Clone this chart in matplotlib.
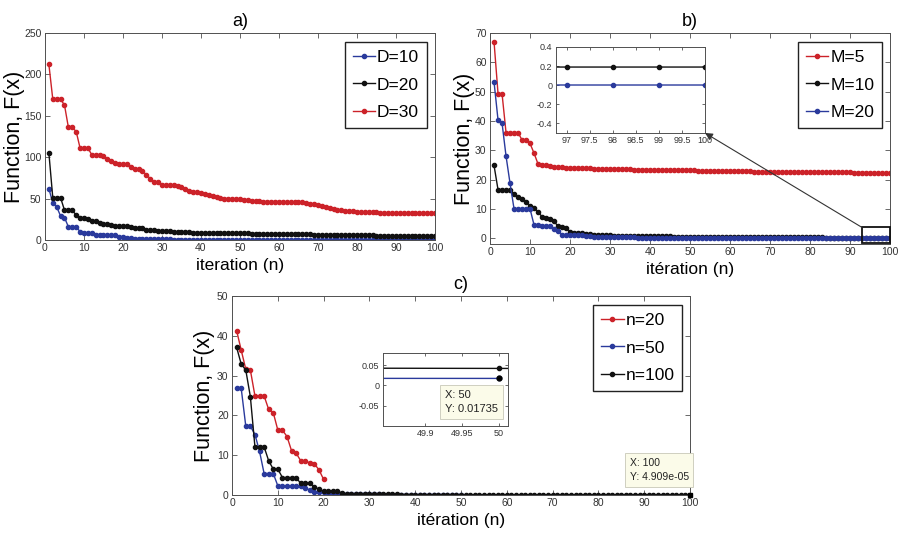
import matplotlib
matplotlib.use('Agg')
import matplotlib.pyplot as plt
from matplotlib.patches import Rectangle, ConnectionPatch

plt.rcParams['font.family'] = ['Liberation Sans', 'DejaVu Sans']

# ---------------- data ----------------
iters_a = list(range(1, 101))
D10 = [62, 45, 40, 29, 27, 16, 16, 16, 10, 8.5, 8.5, 8.5, 6, 6, 5.5, 5.5, 5.5, 5.5, 4, 3.5,
       3, 2, 1.5, 1.5, 1.2, 1.0, 1.0, 0.9, 0.8, 0.8,
       0.7, 0.7, 0.6, 0.6, 0.6, 0.5, 0.5, 0.5, 0.5, 0.4,
       0.4, 0.4, 0.4, 0.4, 0.3, 0.3, 0.3, 0.3, 0.3, 0.3,
       0.3, 0.3, 0.2, 0.2, 0.2, 0.2, 0.2, 0.2, 0.2, 0.2,
       0.2, 0.2, 0.2, 0.2, 0.2, 0.15, 0.15, 0.15, 0.15, 0.15,
       0.15, 0.15, 0.15, 0.15, 0.15, 0.15, 0.15, 0.15, 0.15, 0.15,
       0.1, 0.1, 0.1, 0.1, 0.1, 0.1, 0.1, 0.1, 0.1, 0.1,
       0.1, 0.1, 0.1, 0.1, 0.1, 0.1, 0.1, 0.1, 0.1, 0.1]
D20 = [105, 51, 51, 51, 36, 36, 36, 30, 27, 27, 25, 23, 23, 21, 19.5, 19.5, 18, 16.5, 16.5, 16.5,
       16.5, 16, 14.5, 14, 14, 12.5, 12, 12, 10.5, 10.5,
       10.5, 10.5, 10, 9.5, 9.5, 9.2, 9.2, 9, 9, 9,
       8.8, 8.8, 8.6, 8.6, 8.5, 8.4, 8.3, 8.2, 8.1, 8.0,
       8.0, 7.9, 7.8, 7.8, 7.7, 7.6, 7.5, 7.5, 7.4, 7.3,
       7.2, 7.1, 7.0, 7.0, 6.9, 6.8, 6.8, 6.7, 6.6, 6.5,
       6.4, 6.3, 6.2, 6.1, 6.0, 5.9, 5.9, 5.8, 5.8, 5.7,
       5.6, 5.6, 5.5, 5.5, 5.4, 5.4, 5.3, 5.3, 5.2, 5.2,
       5.2, 5.1, 5.1, 5.1, 5.0, 5.0, 5.0, 5.0, 5.0, 5.0]
D30 = [212, 170, 170, 170, 163, 136, 136, 131, 111, 111, 111, 103, 103, 103, 101, 98, 96, 93, 92, 92,
       92, 88, 86, 86, 83, 79, 74, 70, 70, 66,
       66, 66, 66, 65, 64, 62, 59, 58, 58, 57,
       55, 54, 53, 52, 51, 50, 50, 50, 49, 49,
       48, 48, 47, 47, 47, 46.5, 46.5, 46.5, 46.5, 46.5,
       46.5, 46, 46, 46, 46, 45.5, 45, 44, 43.5, 42.5,
       41, 40, 39, 37.5, 36.5, 36, 35.5, 35, 34.5, 34,
       34, 33.5, 33.5, 33.5, 33.5, 33, 33, 33, 33, 33,
       33, 33, 33, 33, 33, 32.5, 32.5, 32.5, 32.5, 32.5]

iters_b = list(range(1, 101))
M5 = [67, 49.3, 49.3, 36, 36, 36, 36, 33.5, 33.5, 32.3, 29, 25.3, 25, 24.8, 24.5, 24.2, 24.2, 24.2, 24.1, 24.0,
      23.9, 23.9, 23.8, 23.8, 23.8, 23.7, 23.7, 23.7, 23.6, 23.6,
      23.6, 23.5, 23.5, 23.5, 23.5, 23.4, 23.4, 23.4, 23.4, 23.3,
      23.3, 23.3, 23.3, 23.2, 23.2, 23.2, 23.2, 23.1, 23.1, 23.1,
      23.1, 23.0, 23.0, 23.0, 23.0, 22.9, 22.9, 22.9, 22.9, 22.9,
      22.8, 22.8, 22.8, 22.8, 22.8, 22.7, 22.7, 22.7, 22.7, 22.7,
      22.6, 22.6, 22.6, 22.6, 22.6, 22.6, 22.6, 22.6, 22.6, 22.6,
      22.5, 22.5, 22.5, 22.5, 22.5, 22.5, 22.5, 22.5, 22.5, 22.5,
      22.4, 22.4, 22.4, 22.4, 22.4, 22.3, 22.3, 22.3, 22.3, 22.3]
M10 = [24.8, 16.5, 16.5, 16.5, 16.5, 15, 14, 13.3, 12.5, 11, 10.3, 9, 7.3, 7, 6.5, 5.8, 4, 3.8, 3.6, 2.2,
       1.9, 1.9, 1.8, 1.5, 1.3, 1.2, 1.0, 1.0, 0.9, 0.9,
       0.85, 0.85, 0.8, 0.8, 0.8, 0.75, 0.75, 0.7, 0.7, 0.7,
       0.65, 0.65, 0.6, 0.6, 0.6, 0.55, 0.55, 0.5, 0.5, 0.5,
       0.48, 0.46, 0.45, 0.44, 0.42, 0.41, 0.40, 0.39, 0.38, 0.37,
       0.36, 0.35, 0.34, 0.33, 0.32, 0.31, 0.30, 0.30, 0.29, 0.28,
       0.27, 0.27, 0.26, 0.26, 0.25, 0.25, 0.24, 0.24, 0.23, 0.23,
       0.22, 0.22, 0.22, 0.21, 0.21, 0.21, 0.20, 0.20, 0.20, 0.20,
       0.20, 0.195, 0.195, 0.19, 0.19, 0.19, 0.19, 0.19, 0.19, 0.19]
M20 = [53.3, 40.3, 39.3, 28, 18.7, 10, 10, 10, 10, 10, 4.5, 4.4, 4.2, 4.2, 4.0, 3.0, 2.5, 1.2, 1.0, 1.0,
       1.0, 0.9, 0.9, 0.7, 0.6, 0.5, 0.4, 0.4, 0.35, 0.3,
       0.3, 0.28, 0.26, 0.25, 0.24, 0.22, 0.2, 0.2, 0.18, 0.17,
       0.16, 0.15, 0.14, 0.13, 0.12, 0.11, 0.1, 0.1, 0.09, 0.08,
       0.08, 0.07, 0.07, 0.06, 0.06, 0.05, 0.05, 0.05, 0.04, 0.04,
       0.04, 0.03, 0.03, 0.03, 0.03, 0.02, 0.02, 0.02, 0.02, 0.02,
       0.015, 0.015, 0.015, 0.015, 0.015, 0.015, 0.015, 0.015, 0.015, 0.015,
       0.01, 0.01, 0.01, 0.01, 0.01, 0.01, 0.01, 0.01, 0.01, 0.01,
       0.008, 0.007, 0.006, 0.005, 0.004, 0.003, 0.002, 0.002, 0.002, 0.002]

n20 = [41.3, 36.4, 31.6, 31.4, 24.9, 24.9, 24.9, 21.5, 20.7, 16.3, 16.3, 14.7, 11.1, 10.5, 8.6, 8.6,
       8.0, 7.8, 6.3, 3.9]
n50 = [26.8, 26.8, 17.3, 17.3, 15.2, 11.0, 5.4, 5.4, 5.4, 2.3, 2.3, 2.3, 2.3, 2.3, 2.3, 1.8, 1.2,
       0.8, 0.8, 0.8, 0.6, 0.5, 0.4, 0.35, 0.3,
       0.27, 0.25, 0.23, 0.21, 0.19, 0.17, 0.15, 0.13, 0.12, 0.11, 0.10, 0.09, 0.08, 0.07, 0.06,
       0.05, 0.045, 0.04, 0.035, 0.03, 0.025, 0.022, 0.02, 0.018, 0.01735]
n100 = [37.1, 32.9, 31.4, 24.7, 12.1, 12.1, 12.1, 8.6, 6.5, 6.5, 4.4, 4.4, 4.4, 4.4, 2.9, 2.9, 2.9,
        2.1, 1.4, 1.0, 1.0, 1.0, 1.0, 0.5, 0.3,
        0.28, 0.26, 0.24, 0.22, 0.2, 0.19, 0.18, 0.17, 0.16, 0.15, 0.14, 0.13, 0.12, 0.11, 0.1,
        0.09, 0.08, 0.075, 0.07, 0.065, 0.06, 0.055, 0.05, 0.045, 0.042,
        0.038, 0.035, 0.032, 0.03, 0.028, 0.025, 0.022, 0.02, 0.018, 0.016,
        0.014, 0.012, 0.011, 0.01, 0.009, 0.008, 0.007, 0.006, 0.005, 0.0045,
        0.004, 0.0035, 0.003, 0.0027, 0.0024, 0.0021, 0.0018, 0.0016, 0.0014, 0.0012,
        0.001, 0.0009, 0.0008, 0.0007, 0.0006, 0.0005, 0.00045, 0.0004, 0.00035, 0.0003,
        0.00025, 0.0002, 0.00018, 0.00015, 0.00012, 0.0001, 0.00009, 0.00007, 0.00006, 4.909e-05]

x_ticks = [0, 10, 20, 30, 40, 50, 60, 70, 80, 90, 100]

RED = '#cc2229'
BLUE = '#2a3a9c'
BLACK = '#111111'
TXT = '#333333'
SPINE = '#505050'

# ---------------- figure ----------------
fig = plt.figure(figsize=(8.98, 5.45), dpi=100)


def style(ax, fs=7.5):
    for s in ax.spines.values():
        s.set_color(SPINE)
        s.set_linewidth(0.7)
    ax.tick_params(direction='in', top=True, right=True, length=3.5, width=0.6,
                   colors=SPINE, labelsize=fs, labelcolor=TXT, pad=2.5)


def line(ax, x, y, c, label=None):
    ax.plot(x, y, color=c, lw=1.0, marker='o', ms=3.0, mec=c, mfc=c, label=label)


def legend(ax, anchor):
    lg = ax.legend(loc='upper right', bbox_to_anchor=anchor, fancybox=False,
                   edgecolor='#222222', framealpha=1, fontsize=12.5, handlelength=1.3,
                   handletextpad=0.1, borderpad=0.45, labelspacing=0.72, borderaxespad=0)
    lg.get_frame().set_linewidth(1.0)
    return lg


def labels(ax, title, xlabel, ylab_x):
    ax.set_title(title, fontsize=13, pad=5)
    ax.set_xlabel(xlabel, fontsize=12.5, labelpad=3)
    ax.set_ylabel('Function, F(x)', fontsize=15.5)
    ax.yaxis.set_label_coords(ylab_x, 0.5)


# ---- panel a ----
ax_a = fig.add_axes([0.0501, 0.5596, 0.4343, 0.3798])
line(ax_a, iters_a, D10, BLUE, 'D=10')
line(ax_a, iters_a, D20, BLACK, 'D=20')
line(ax_a, iters_a, D30, RED, 'D=30')
ax_a.set_xlim(0, 100)
ax_a.set_ylim(0, 250)
ax_a.set_xticks(x_ticks)
ax_a.set_yticks([0, 50, 100, 150, 200, 250])
style(ax_a)
labels(ax_a, 'a)', 'iteration (n)', -0.052)
legend(ax_a, (0.979, 0.957))

# ---- panel b ----
ax_b = fig.add_axes([0.5457, 0.5523, 0.4454, 0.3871])
line(ax_b, iters_b, M5, RED, 'M=5')
line(ax_b, iters_b, M10, BLACK, 'M=10')
line(ax_b, iters_b, M20, BLUE, 'M=20')
ax_b.set_xlim(0, 100)
ax_b.set_ylim(-2, 70)
ax_b.set_xticks(x_ticks)
ax_b.set_yticks([0, 10, 20, 30, 40, 50, 60, 70])
style(ax_b)
labels(ax_b, 'b)', 'itération (n)', -0.038)
legend(ax_b, (0.98, 0.958))
zoom_box = Rectangle((93, -1.6), 7, 5.25, fill=False, edgecolor='#111111', lw=1.3, zorder=5,
                     clip_on=False)
ax_b.add_patch(zoom_box)

ins_b = fig.add_axes([0.6192, 0.7560, 0.1659, 0.1578])
line(ins_b, iters_b, M10, BLACK)
line(ins_b, iters_b, M20, BLUE)
ins_b.set_xlim(96.77, 100)
ins_b.set_ylim(-0.5, 0.4)
ins_b.set_xticks([97, 97.5, 98, 98.5, 99, 99.5, 100])
ins_b.set_xticklabels(['97', '97.5', '98', '98.5', '99', '99.5', '100'])
ins_b.set_yticks([-0.4, -0.2, 0, 0.2, 0.4])
ins_b.set_yticklabels(['-0.4', '-0.2', '0', '0.2', '0.4'])
style(ins_b, fs=6.5)
ins_b.tick_params(length=2.5)

con = ConnectionPatch(xyA=(93, 3.65), coordsA=ax_b.transData,
                      xyB=(1.0, 0.0), coordsB=ins_b.transAxes,
                      arrowstyle='-|>', color='#333333', lw=0.8, mutation_scale=11,
                      shrinkA=0, shrinkB=0, zorder=10)
fig.add_artist(con)

# ---- panel c ----
ax_c = fig.add_axes([0.2584, 0.0917, 0.5100, 0.3652])
line(ax_c, list(range(1, len(n20) + 1)), n20, RED, 'n=20')
line(ax_c, list(range(1, len(n50) + 1)), n50, BLUE, 'n=50')
line(ax_c, list(range(1, len(n100) + 1)), n100, BLACK, 'n=100')
ax_c.set_xlim(0, 100)
ax_c.set_ylim(0, 50)
ax_c.set_xticks(x_ticks)
ax_c.set_yticks([0, 10, 20, 30, 40, 50])
style(ax_c)
labels(ax_c, 'c)', 'itération (n)', -0.037)
legend(ax_c, (0.983, 0.955))

tip_bbox = dict(boxstyle='square,pad=0.45', fc='#fbfbe9', ec='#c8c8b8', lw=0.6)
x_last = len(n100)
ax_c.plot([x_last], [n100[-1]], 's', color='black', ms=3, zorder=6, clip_on=False)
ax_c.text(0.868, 0.125, 'X: %d\nY: %.3e' % (x_last, n100[-1]), transform=ax_c.transAxes,
          fontsize=7.5, color='#222222', va='center', ha='left', bbox=tip_bbox,
          linespacing=1.5, zorder=7)

ins_c = fig.add_axes([0.4265, 0.2183, 0.1392, 0.1340])
line(ins_c, list(range(1, len(n50) + 1)), n50, BLUE)
line(ins_c, list(range(1, len(n100) + 1)), n100, BLACK)
ins_c.plot([len(n50)], [n50[-1]], 'o', color='black', ms=3.5, zorder=6)
ins_c.set_xlim(49.843, 50.012)
ins_c.set_ylim(-0.1, 0.08)
ins_c.set_xticks([49.9, 49.95, 50])
ins_c.set_xticklabels(['49.9', '49.95', '50'])
ins_c.set_yticks([-0.05, 0, 0.05])
ins_c.set_yticklabels(['-0.05', '0', '0.05'])
style(ins_c, fs=6.5)
ins_c.tick_params(length=2.5)
ins_c.text(0.50, 0.33, 'X: %d\nY: %.5f' % (len(n50), n50[-1]), transform=ins_c.transAxes,
           fontsize=8, color='#222222', va='center', ha='left', bbox=tip_bbox,
           linespacing=1.5, zorder=7)

fig.savefig('out.png', dpi=100)
